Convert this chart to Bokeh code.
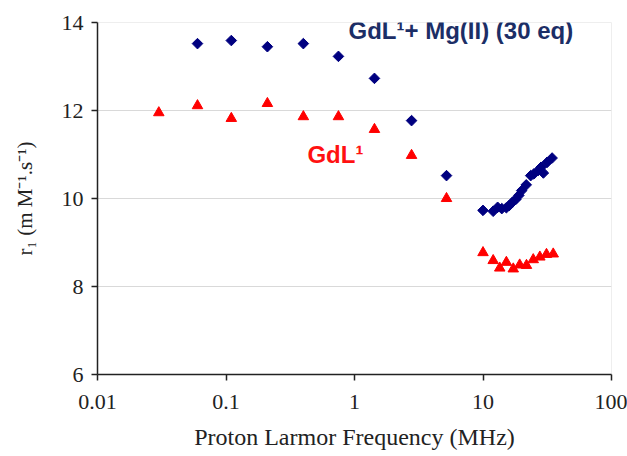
import math
from bokeh.plotting import figure
from bokeh.models import Range1d, FixedTicker, CustomJSTickFormatter, Label, ColumnDataSource
from bokeh.embed import file_html
from bokeh.resources import INLINE

# GdL1 + Mg(II) (30 eq)
mg_freq = [0.06, 0.11, 0.21, 0.40, 0.75, 1.43, 2.78, 5.2,
           10.0, 12.0, 13.0, 14.0, 15.2, 16.0, 17.0, 18.0, 19.0, 20.0,
           21.7, 23.5, 24.9, 27.0, 28.3, 29.5, 31.5, 34.5]
mg_r1 = [13.52, 13.59, 13.45, 13.52, 13.23, 12.73, 11.77, 10.52,
         9.73, 9.71, 9.80, 9.77, 9.79, 9.84, 9.92, 9.98, 10.07, 10.18,
         10.31, 10.52, 10.56, 10.64, 10.71, 10.58, 10.82, 10.92]

# GdL1
gd_freq = [0.03, 0.06, 0.11, 0.21, 0.40, 0.75, 1.43, 2.78, 5.2,
           10.0, 12.0, 13.5, 15.2, 17.2, 19.3, 21.8, 24.6, 27.7, 31.2, 35.2]
gd_r1 = [11.95, 12.11, 11.82, 12.16, 11.86, 11.86, 11.57, 10.98, 10.00,
         8.77, 8.59, 8.42, 8.55, 8.40, 8.49, 8.48, 8.61, 8.67, 8.73, 8.74]

x_ticks = [0.01, 0.1, 1, 10, 100]
y_ticks = [6, 8, 10, 12, 14]

p = figure(width=627, height=456, x_axis_type="log",
           x_range=Range1d(0.01, 100), y_range=Range1d(6, 14),
           output_backend="svg", toolbar_location=None,
           min_border_left=97, min_border_right=16,
           min_border_top=22, min_border_bottom=82)

p.background_fill_color = "white"
p.border_fill_color = "white"
p.outline_line_color = "#eeeeee"

p.xgrid.grid_line_color = None
p.ygrid.grid_line_color = "#d9d9d9"
p.ygrid.grid_line_width = 1

p.xaxis.ticker = FixedTicker(ticks=x_ticks)
p.xaxis.formatter = CustomJSTickFormatter(code="return tick.toString();")
p.yaxis.ticker = FixedTicker(ticks=y_ticks)
p.ygrid.ticker = FixedTicker(ticks=y_ticks)

for ax in (p.xaxis[0], p.yaxis[0]):
    ax.axis_line_color = "#222222"
    ax.axis_line_width = 1.5
    ax.major_tick_line_color = "#222222"
    ax.major_tick_line_width = 1.5
    ax.major_tick_out = 6
    ax.major_tick_in = 0
    ax.minor_tick_line_color = None
    ax.major_label_text_font = "Liberation Serif"
    ax.major_label_text_font_size = "22px"
    ax.major_label_text_color = "#222222"
    ax.axis_label_text_font = "Liberation Serif"
    ax.axis_label_text_font_style = "normal"
    ax.axis_label_text_color = "#222222"

p.xaxis.axis_label = "Proton Larmor Frequency (MHz)"
p.xaxis.axis_label_text_font_size = "24px"
p.yaxis.axis_label = "r\u2081 (m M\u207b\u00b9.s\u207b\u00b9)"
p.yaxis.axis_label_text_font_size = "21px"
p.xaxis.major_label_standoff = 14
p.xaxis.axis_label_standoff = 12
p.yaxis.major_label_standoff = 8
p.yaxis.axis_label_standoff = 22

src_mg = ColumnDataSource(dict(x=mg_freq, y=mg_r1))
src_gd = ColumnDataSource(dict(x=gd_freq, y=gd_r1))

p.scatter("x", "y", source=src_mg, marker="square", angle=math.pi / 4,
          size=7.5, fill_color="#000080", line_color="#000080")
p.scatter("x", "y", source=src_gd, marker="triangle",
          size=10.5, fill_color="#ff0000", line_color="#ff0000")

p.add_layout(Label(x=0.898, y=13.82, text="GdL\u00b9+ Mg(II) (30 eq)",
                   text_font="Liberation Sans", text_font_style="bold",
                   text_font_size="24px", text_color="#1c2e66",
                   text_baseline="alphabetic", text_align="left"))
p.add_layout(Label(x=0.43, y=11.0, text="GdL\u00b9",
                   text_font="Liberation Sans", text_font_style="bold",
                   text_font_size="24px", text_color="#ff1111",
                   text_baseline="alphabetic", text_align="left"))

open("out.html", "w").write(file_html(p, INLINE))
